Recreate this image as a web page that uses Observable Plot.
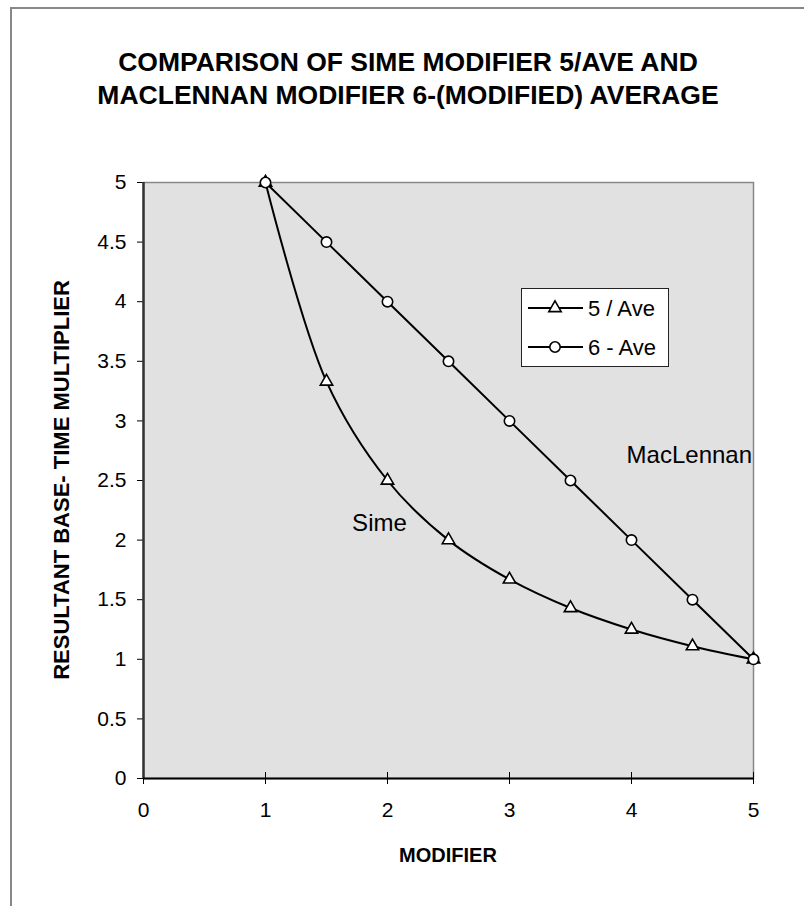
<!DOCTYPE html>
<html>
<head>
<meta charset="utf-8">
<script src="https://cdn.jsdelivr.net/npm/d3@7"></script>
<script src="https://cdn.jsdelivr.net/npm/@observablehq/plot@0.6"></script>
<style>
  html, body { margin: 0; padding: 0; background: #fff; }
  #wrap { position: relative; width: 804px; height: 906px; overflow: hidden; font-family: "Liberation Sans", Arial, sans-serif; color: #000; }
  #border { position: absolute; left: 10px; top: 7px; width: 1000px; height: 1000px; border-left: 2px solid #888; border-top: 2px solid #888; }
  #title { position: absolute; left: 0; width: 816px; top: 46px; text-align: center; font-weight: bold; font-size: 26.5px; line-height: 33px; }
  #ylabel { position: absolute; left: 62px; top: 480px; transform: translate(-50%, -50%) rotate(-90deg); white-space: nowrap; font-weight: bold; font-size: 22px; }
  #xlabel { position: absolute; left: 448px; top: 855px; transform: translate(-50%, -50%); white-space: nowrap; font-weight: bold; font-size: 20px; }
  #legend { position: absolute; left: 521px; top: 288px; }
  #chart svg { position: absolute; left: 0; top: 0; }
</style>
</head>
<body>
<div id="wrap">
  <div id="border"></div>
  <div id="chart"></div>
  <div id="title">COMPARISON OF SIME MODIFIER 5/AVE AND<br>MACLENNAN MODIFIER 6-(MODIFIED) AVERAGE</div>
  <div id="ylabel">RESULTANT BASE- TIME MULTIPLIER</div>
  <div id="xlabel">MODIFIER</div>
  <div id="legend"></div>
</div>
<script>
// ---- data ----
const modifier = [1, 1.5, 2, 2.5, 3, 3.5, 4, 4.5, 5];
const simeValues = [5, 3.33, 2.5, 2, 1.67, 1.43, 1.25, 1.11, 1];
const maclennanValues = [5, 4.5, 4, 3.5, 3, 2.5, 2, 1.5, 1];
const seriesNames = ["5 / Ave", "6 - Ave"];
const xTicks = [0, 1, 2, 3, 4, 5];
const yTicks = [0, 0.5, 1, 1.5, 2, 2.5, 3, 3.5, 4, 4.5, 5];
const annotationLabels = ["Sime", "MacLennan"];
const annotationX = [1.71, 3.96];
const annotationY = [2.14, 2.71];

const sime = modifier.map((x, i) => ({x, y: simeValues[i]}));
const mac = modifier.map((x, i) => ({x, y: maclennanValues[i]}));
const notes = annotationLabels.map((label, i) => ({label, x: annotationX[i], y: annotationY[i]}));

const chart = Plot.plot({
  width: 804,
  height: 906,
  marginTop: 182,
  marginBottom: 128,
  marginLeft: 143,
  marginRight: 51,
  style: {fontFamily: "Liberation Sans, Arial, sans-serif", fontSize: "21px", color: "#000", background: "transparent", overflow: "visible"},
  x: {domain: [0, 5]},
  y: {domain: [0, 5]},
  marks: [
    Plot.frame({fill: "#e1e1e1", stroke: "#888", strokeWidth: 1.5}),
    Plot.axisY({ticks: yTicks, tickFormat: d => String(d), tickSize: 6, tickPadding: 11, label: null, stroke: "#000"}),
    Plot.axisX({ticks: xTicks, tickFormat: d => String(d), tickSize: 6, tickPadding: 18, label: null, stroke: "#000"}),
    Plot.ruleX(xTicks, {x: d => d, y1: 0, y2: 0, insetTop: -6, stroke: "#000"}),
    Plot.ruleX([0], {stroke: "#333", strokeWidth: 2.5}),
    Plot.ruleY([0], {stroke: "#000", strokeWidth: 2}),
    Plot.line(sime, {x: "x", y: "y", curve: "catmull-rom", stroke: "#000", strokeWidth: 2}),
    Plot.line(mac, {x: "x", y: "y", stroke: "#000", strokeWidth: 2}),
    Plot.dot(sime, {x: "x", y: "y", symbol: "triangle", r: 4.6, fill: "#fff", stroke: "#000", strokeWidth: 1.6}),
    Plot.dot(mac, {x: "x", y: "y", symbol: "circle", r: 5.2, fill: "#fff", stroke: "#000", strokeWidth: 1.6}),
    Plot.text(notes, {x: "x", y: "y", text: "label", textAnchor: "start", fontSize: 24, fill: "#000"})
  ]
});
document.getElementById("chart").appendChild(chart);

// ---- legend ----
const lw = 148, lh = 79;
const leg = d3.select("#legend").append("svg").attr("width", lw).attr("height", lh)
  .style("font-family", "Liberation Sans, Arial, sans-serif");
leg.append("rect").attr("x", 0.5).attr("y", 0.5).attr("width", lw - 1).attr("height", lh - 1)
  .attr("fill", "#fff").attr("stroke", "#222").attr("stroke-width", 1);
const symbols = [d3.symbolTriangle, d3.symbolCircle];
const sizes = [Math.PI * 4.6 * 4.6, Math.PI * 5.2 * 5.2];
seriesNames.forEach((name, i) => {
  const cy = 20 + i * 39;
  leg.append("line").attr("x1", 7).attr("x2", 62).attr("y1", cy).attr("y2", cy).attr("stroke", "#000").attr("stroke-width", 2);
  leg.append("path").attr("d", d3.symbol(symbols[i], sizes[i])()).attr("transform", `translate(34,${cy})`)
    .attr("fill", "#fff").attr("stroke", "#000").attr("stroke-width", 1.6);
  leg.append("text").attr("x", 67).attr("y", cy).attr("dy", "0.35em").attr("font-size", 22).text(name);
});
</script>
</body>
</html>
